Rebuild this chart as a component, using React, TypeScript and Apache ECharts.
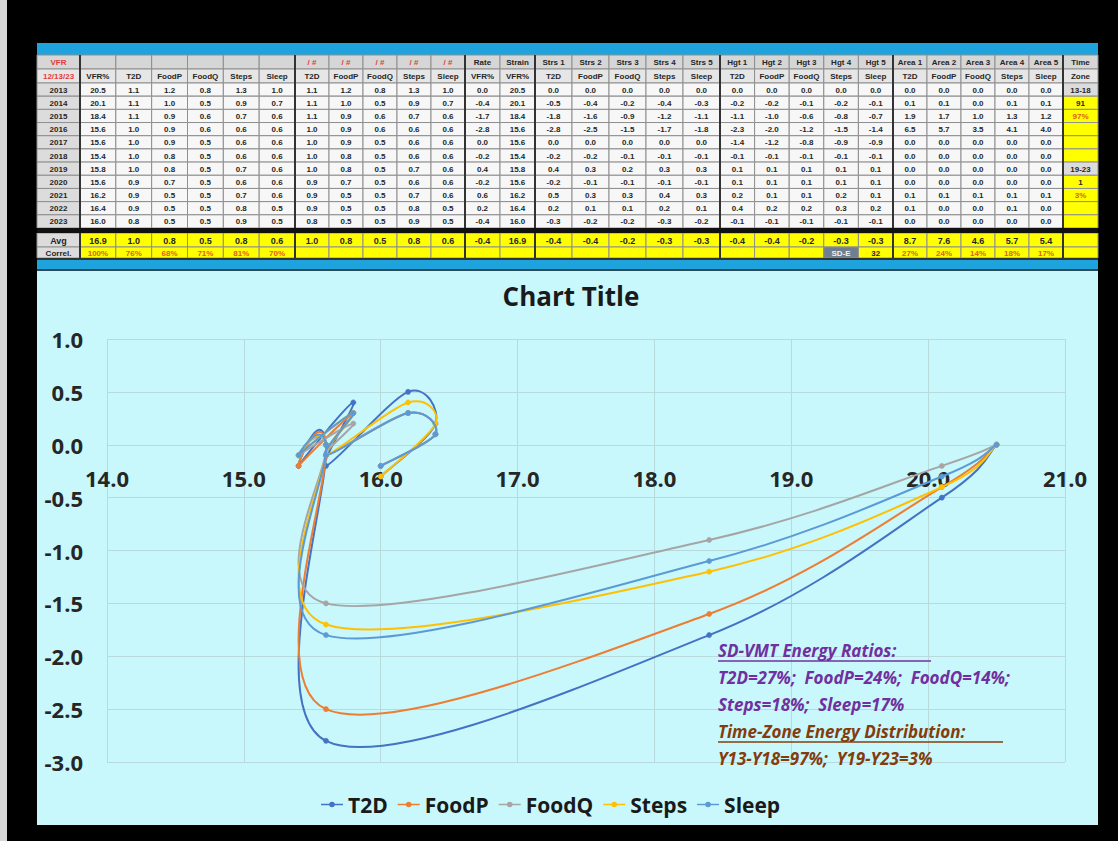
import React, { useEffect, useRef } from "react";
import * as echarts from "echarts";

// ---------- Data ----------
const years = ["2013", "2014", "2015", "2016", "2017", "2018", "2019", "2020", "2021", "2022", "2023"];
const vfrPct = [20.5, 20.1, 18.4, 15.6, 15.6, 15.4, 15.8, 15.6, 16.2, 16.4, 16.0];
const t2d = [1.1, 1.1, 1.1, 1.0, 1.0, 1.0, 1.0, 0.9, 0.9, 0.9, 0.8];
const foodP = [1.2, 1.0, 0.9, 0.9, 0.9, 0.8, 0.8, 0.7, 0.5, 0.5, 0.5];
const foodQ = [0.8, 0.5, 0.6, 0.6, 0.5, 0.5, 0.5, 0.5, 0.5, 0.5, 0.5];
const steps = [1.3, 0.9, 0.7, 0.6, 0.6, 0.6, 0.7, 0.6, 0.7, 0.8, 0.9];
const sleep = [1.0, 0.7, 0.6, 0.6, 0.6, 0.6, 0.6, 0.6, 0.6, 0.5, 0.5];
const rateVFR = [0.0, -0.4, -1.7, -2.8, 0.0, -0.2, 0.4, -0.2, 0.6, 0.2, -0.4];
const strainVFR = [20.5, 20.1, 18.4, 15.6, 15.6, 15.4, 15.8, 15.6, 16.2, 16.4, 16.0];
const strsT2D = [0.0, -0.5, -1.8, -2.8, 0.0, -0.2, 0.4, -0.2, 0.5, 0.2, -0.3];
const strsFoodP = [0.0, -0.4, -1.6, -2.5, 0.0, -0.2, 0.3, -0.1, 0.3, 0.1, -0.2];
const strsFoodQ = [0.0, -0.2, -0.9, -1.5, 0.0, -0.1, 0.2, -0.1, 0.3, 0.1, -0.2];
const strsSteps = [0.0, -0.4, -1.2, -1.7, 0.0, -0.1, 0.3, -0.1, 0.4, 0.2, -0.3];
const strsSleep = [0.0, -0.3, -1.1, -1.8, 0.0, -0.1, 0.3, -0.1, 0.3, 0.1, -0.2];
const hgtT2D = [0.0, -0.2, -1.1, -2.3, -1.4, -0.1, 0.1, 0.1, 0.2, 0.4, -0.1];
const hgtFoodP = [0.0, -0.2, -1.0, -2.0, -1.2, -0.1, 0.1, 0.1, 0.1, 0.2, -0.1];
const hgtFoodQ = [0.0, -0.1, -0.6, -1.2, -0.8, -0.1, 0.1, 0.1, 0.1, 0.2, -0.1];
const hgtSteps = [0.0, -0.2, -0.8, -1.5, -0.9, -0.1, 0.1, 0.1, 0.2, 0.3, -0.1];
const hgtSleep = [0.0, -0.1, -0.7, -1.4, -0.9, -0.1, 0.1, 0.1, 0.1, 0.2, -0.1];
const areaT2D = [0.0, 0.1, 1.9, 6.5, 0.0, 0.0, 0.0, 0.0, 0.1, 0.1, 0.0];
const areaFoodP = [0.0, 0.1, 1.7, 5.7, 0.0, 0.0, 0.0, 0.0, 0.1, 0.0, 0.0];
const areaFoodQ = [0.0, 0.0, 1.0, 3.5, 0.0, 0.0, 0.0, 0.0, 0.1, 0.0, 0.0];
const areaSteps = [0.0, 0.1, 1.3, 4.1, 0.0, 0.0, 0.0, 0.0, 0.1, 0.1, 0.0];
const areaSleep = [0.0, 0.1, 1.2, 4.0, 0.0, 0.0, 0.0, 0.0, 0.1, 0.0, 0.0];
const timeZone = ["13-18", "91", "97%", "", "", "", "19-23", "1", "3%", "", ""];

const header1 = ["VFR", "", "", "", "", "", "", "/ #", "/ #", "/ #", "/ #", "/ #", "Rate", "Strain",
  "Strs 1", "Strs 2", "Strs 3", "Strs 4", "Strs 5", "Hgt 1", "Hgt 2", "Hgt 3", "Hgt 4", "Hgt 5",
  "Area 1", "Area 2", "Area 3", "Area 4", "Area 5", "Time"];
const header2 = ["12/13/23", "VFR%", "T2D", "FoodP", "FoodQ", "Steps", "Sleep", "T2D", "FoodP", "FoodQ", "Steps", "Sleep",
  "VFR%", "VFR%", "T2D", "FoodP", "FoodQ", "Steps", "Sleep", "T2D", "FoodP", "FoodQ", "Steps", "Sleep",
  "T2D", "FoodP", "FoodQ", "Steps", "Sleep", "Zone"];
const avgRow = ["Avg", "16.9", "1.0", "0.8", "0.5", "0.8", "0.6", "1.0", "0.8", "0.5", "0.8", "0.6", "-0.4", "16.9",
  "-0.4", "-0.4", "-0.2", "-0.3", "-0.3", "-0.4", "-0.4", "-0.2", "-0.3", "-0.3", "8.7", "7.6", "4.6", "5.7", "5.4", ""];
const correlRow = ["Correl.", "100%", "76%", "68%", "71%", "81%", "70%", "", "", "", "", "", "", "",
  "", "", "", "", "", "", "", "", "SD-E", "32", "27%", "24%", "14%", "18%", "17%", ""];

const seriesNames = ["T2D", "FoodP", "FoodQ", "Steps", "Sleep"];
const seriesColors = ["#4472C4", "#ED7D31", "#A5A5A5", "#FFC000", "#5B9BD5"];
const strsSeries = [strsT2D, strsFoodP, strsFoodQ, strsSteps, strsSleep];

const noteLines = [
  "SD-VMT Energy Ratios:",
  "T2D=27%;  FoodP=24%;  FoodQ=14%;",
  "Steps=18%;  Sleep=17%",
  "Time-Zone Energy Distribution:",
  "Y13-Y18=97%;  Y19-Y23=3%",
];

// ---------- Layout helpers ----------
const FONT = '"Open Sans", "DejaVu Sans", sans-serif';
const TFONT = '"Liberation Sans", Arial, sans-serif';

function colEdges(): number[] {
  const e = [37, 80];
  const groups: [number, number, number][] = [
    [80, 295, 6], [295, 465, 5], [465, 535, 2], [535, 720, 5], [720, 893, 5], [893, 1063, 5], [1063, 1098, 1],
  ];
  for (const [a, b, n] of groups) for (let i = 1; i <= n; i++) e.push(a + ((b - a) * i) / n);
  return e;
}

function fmt(v: number) {
  return v.toFixed(1);
}

function buildTable(): any[] {
  const els: any[] = [];
  const cx = colEdges();
  const dataCols = [vfrPct, t2d, foodP, foodQ, steps, sleep, t2d, foodP, foodQ, steps, sleep, rateVFR, strainVFR,
    strsT2D, strsFoodP, strsFoodQ, strsSteps, strsSleep, hgtT2D, hgtFoodP, hgtFoodQ, hgtSteps, hgtSleep,
    areaT2D, areaFoodP, areaFoodQ, areaSteps, areaSleep];
  type Row = { y0: number; y1: number; cells: string[]; kind: string; idx?: number };
  const rows: Row[] = [];
  rows.push({ y0: 55, y1: 69, cells: header1, kind: "h1" });
  rows.push({ y0: 69, y1: 83, cells: header2, kind: "h2" });
  const rh = (228 - 83) / years.length;
  years.forEach((y, i) => {
    const cells = [y, ...dataCols.map((c) => fmt(c[i])), timeZone[i]];
    rows.push({ y0: 83 + rh * i, y1: 83 + rh * (i + 1), cells, kind: "d", idx: i });
  });
  rows.push({ y0: 233, y1: 247, cells: avgRow, kind: "avg" });
  rows.push({ y0: 247, y1: 258, cells: correlRow, kind: "cor" });

  els.push({ type: "rect", z: -5, shape: { x: 37, y: 43, width: 1061, height: 12 }, style: { fill: "#1fa3dc" } });
  els.push({ type: "rect", z: -5, shape: { x: 37, y: 55, width: 1061, height: 205 }, style: { fill: "#3a3a3a" } });
  els.push({ type: "rect", z: -5, shape: { x: 37, y: 260, width: 1061, height: 9 }, style: { fill: "#1fa3dc" } });
  els.push({ type: "rect", z: -5, shape: { x: 37, y: 269, width: 1061, height: 2 }, style: { fill: "#2a4a55" } });

  const red = "#e23b3b";
  const orange = "#e0601c";
  rows.forEach((r) => {
    for (let c = 0; c < 30; c++) {
      let fill = "#f7f7f7";
      let color = "#262626";
      if (r.kind === "h1") fill = "#d6d6d6";
      else if (r.kind === "h2") fill = "#e6e6e6";
      else if (r.kind === "d") {
        if (c === 0) fill = "#dcdcdc";
        if (c === 29) fill = r.idx === 0 || r.idx === 6 ? "#dcdcdc" : "#ffff00";
      } else {
        fill = c === 0 ? "#dcdcdc" : "#ffff00";
      }
      const txt = r.cells[c] || "";
      if ((r.kind === "h1" || r.kind === "h2") && (c === 0 || (r.kind === "h1" && c >= 7 && c <= 11))) color = red;
      if (r.kind === "cor" && txt.endsWith("%")) color = orange;
      if (r.kind === "d" && c === 29 && txt.endsWith("%")) color = orange;
      if (r.kind === "cor" && txt === "SD-E") {
        fill = "#6f7f90";
        color = "#eef2f6";
      }
      els.push({
        type: "rect",
        z: -4,
        shape: { x: cx[c], y: r.y0, width: cx[c + 1] - cx[c], height: r.y1 - r.y0 },
        style: { fill, stroke: "#8f8f8f", lineWidth: 1 },
      });
      if (txt) {
        els.push({
          type: "text",
          z: -3,
          x: (cx[c] + cx[c + 1]) / 2,
          y: (r.y0 + r.y1) / 2 + 0.5,
          style: {
            text: txt,
            fill: color,
            font: `bold ${r.kind === "avg" ? 9 : 8}px ${TFONT}`,
            align: "center",
            verticalAlign: "middle",
          },
        });
      }
    }
  });
  [80, 295, 465, 535, 720, 893, 1063].forEach((x) => {
    els.push({ type: "line", z: -2, shape: { x1: x, y1: 55, x2: x, y2: 258 }, style: { stroke: "#333", lineWidth: 2 } });
  });
  els.push({ type: "rect", z: -2, shape: { x: 37, y: 228, width: 1061, height: 5 }, style: { fill: "#111" } });
  els.push({ type: "rect", z: -2, shape: { x: 37, y: 258, width: 1061, height: 2 }, style: { fill: "#333" } });
  return els;
}

function buildNotes(): any[] {
  const els: any[] = [];
  const purple = "#7030A0";
  const brown = "#843C0C";
  const x0 = 718;
  const ys = [650, 677, 704, 731, 758];
  noteLines.forEach((t, i) => {
    const color = i < 3 ? purple : brown;
    els.push({
      type: "text",
      z: 50,
      x: x0,
      y: ys[i],
      style: {
        text: t,
        fill: color,
        font: `italic bold 17px ${FONT}`,
        align: "left",
        verticalAlign: "middle",
      },
    });
  });
  els.push({ type: "line", z: 50, shape: { x1: x0, y1: 661, x2: 931, y2: 661 }, style: { stroke: purple, lineWidth: 1.5 } });
  els.push({ type: "line", z: 50, shape: { x1: x0, y1: 742, x2: 1003, y2: 742 }, style: { stroke: brown, lineWidth: 1.5 } });
  return els;
}

// Excel-like smoothed curve (Catmull-Rom converted to cubic Bezier), computed in pixel space via api.coord
function makeRenderItem(i: number) {
  return (params: any, api: any) => {
    const color = seriesColors[i];
    const pt = api.coord([api.value(0), api.value(1)]);
    const marker = {
      type: "circle",
      z2: 10,
      shape: { cx: pt[0], cy: pt[1], r: 2.6 },
      style: { fill: color, stroke: color, lineWidth: 0.5 },
    };
    if (params.dataIndex !== 0) return marker;
    const pts = strainVFR.map((x, j) => api.coord([x, strsSeries[i][j]]));
    let d = `M${pts[0][0]},${pts[0][1]}`;
    for (let k = 0; k < pts.length - 1; k++) {
      const p0 = pts[Math.max(k - 1, 0)];
      const p1 = pts[k];
      const p2 = pts[k + 1];
      const p3 = pts[Math.min(k + 2, pts.length - 1)];
      const c1x = p1[0] + (p2[0] - p0[0]) / 6;
      const c1y = p1[1] + (p2[1] - p0[1]) / 6;
      const c2x = p2[0] - (p3[0] - p1[0]) / 6;
      const c2y = p2[1] - (p3[1] - p1[1]) / 6;
      d += ` C${c1x},${c1y} ${c2x},${c2y} ${p2[0]},${p2[1]}`;
    }
    return {
      type: "group",
      children: [
        { type: "path", shape: { pathData: d }, style: { stroke: color, fill: "none", lineWidth: 2 } },
        marker,
      ],
    };
  };
}

const axisText = { fontFamily: FONT, fontWeight: "bold" as const, fontSize: 22, color: "#262626" };
const gridColor = "#b9dadd";
const GRID_TOP = 339;
const GRID_BOTTOM = 79;
const Y_MIN = -3;
const Y_MAX = 1;
const gridH = 841 - GRID_TOP - GRID_BOTTOM;
const zeroOffset = -(gridH * (0 - Y_MIN)) / (Y_MAX - Y_MIN);

const legendIcon = "path://M0,3.3L22,3.3L22,4.7L0,4.7Z M13.8,4A2.8,2.8 0 1 1 8.2,4A2.8,2.8 0 1 1 13.8,4Z";

const option: any = {
  animation: false,
  backgroundColor: "#000",
  title: {
    text: "Chart Title",
    left: 571,
    top: 283,
    padding: 0,
    textAlign: "center",
    textStyle: { fontFamily: FONT, fontWeight: "bold", fontSize: 26, color: "#1a1a1a" },
  },
  grid: { left: 107, right: 53, top: GRID_TOP, bottom: GRID_BOTTOM },
  xAxis: {
    type: "value",
    min: 14,
    max: 21,
    interval: 1,
    offset: zeroOffset,
    axisLine: { show: true, onZero: false, lineStyle: { color: gridColor, width: 1 } },
    axisTick: { show: false },
    axisLabel: { ...axisText, margin: 22, formatter: (v: number) => v.toFixed(1) },
    splitLine: { show: true, lineStyle: { color: gridColor, width: 1 } },
  },
  yAxis: {
    type: "value",
    min: Y_MIN,
    max: Y_MAX,
    interval: 0.5,
    axisLine: { show: false },
    axisTick: { show: false },
    axisLabel: { ...axisText, margin: 24, formatter: (v: number) => v.toFixed(1) },
    splitLine: { show: true, lineStyle: { color: gridColor, width: 1 } },
  },
  legend: {
    left: 316,
    top: 789,
    itemWidth: 22,
    itemHeight: 8,
    itemGap: 10,
    data: seriesNames.map((n) => ({ name: n, icon: legendIcon })),
    textStyle: { fontFamily: FONT, fontWeight: "bold", fontSize: 21, color: "#1a1a1a" },
  },
  series: seriesNames.map((n, i) => ({
    type: "custom",
    name: n,
    coordinateSystem: "cartesian2d",
    data: strainVFR.map((x, j) => [x, strsSeries[i][j]]),
    encode: { x: 0, y: 1 },
    renderItem: makeRenderItem(i),
    z: 2 + i,
    itemStyle: { color: seriesColors[i] },
  })),
  graphic: [
    { type: "rect", z: -10, shape: { x: 0, y: 0, width: 7, height: 841 }, style: { fill: "#d9d9d9" } },
    { type: "rect", z: -10, shape: { x: 37, y: 271, width: 1061, height: 554 }, style: { fill: "#c9f8fc" } },
    ...buildTable(),
    ...buildNotes(),
  ],
};

export default function App() {
  const ref = useRef<HTMLDivElement>(null);
  useEffect(() => {
    if (!ref.current) return;
    const chart = echarts.init(ref.current, null, { renderer: "svg" });
    chart.setOption(option);
    return () => chart.dispose();
  }, []);
  return (
    <div
      ref={ref}
      style={{ position: "fixed", left: 0, top: 0, width: 1118, height: 841 }}
    />
  );
}
